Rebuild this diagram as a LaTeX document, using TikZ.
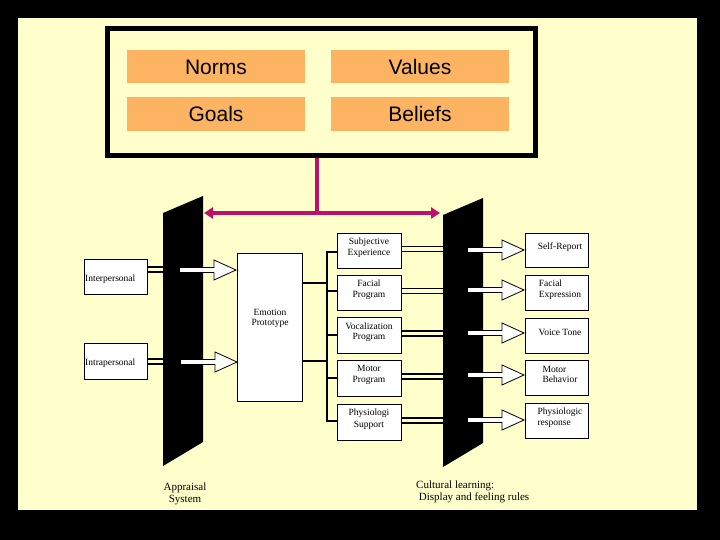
\documentclass[tikz,border=0pt]{standalone}
\usepackage{fontspec}
\setmainfont{Liberation Serif}
\newfontfamily\hsans{Liberation Sans}
\usetikzlibrary{arrows.meta}
\definecolor{bgy}{RGB}{255,255,204}
\definecolor{orng}{RGB}{253,180,98}
\definecolor{mag}{RGB}{190,16,104}
\tikzset{
  cell/.style={fill=orng,draw=none,font=\hsans\fontsize{21}{21}\selectfont,inner sep=0pt},
  wbox/.style={draw=black,fill=white,line width=0.8pt,inner sep=1pt,align=center,font=\fontsize{9.5}{10}\selectfont},
  panel/.style={fill=black},
  dbl/.style={line width=1.4pt},
  bus/.style={line width=1.6pt},
  lbl/.style={align=left,font=\fontsize{11}{12}\selectfont,inner sep=0pt}
}
\newcommand{\harrow}[2]{% x-start, y-center
  \draw[fill=white,line width=0.8pt] (#1,#2-2.5) -- (#1+34,#2-2.5) -- (#1+34,#2-10) -- (#1+56,#2) -- (#1+34,#2+10) -- (#1+34,#2+2.5) -- (#1,#2+2.5);}
\begin{document}
\begin{tikzpicture}[x=1pt,y=-1pt]
\useasboundingbox (0,0) rectangle (720,540);
\fill[black] (0,0) rectangle (720,540);
\fill[bgy] (18,18) rectangle (697,510);
% top box
\draw[line width=5pt] (107,29) rectangle (535,156);
\node[cell,minimum width=178,minimum height=33] (norms) at (216,67) {Norms};
\node[cell,minimum width=178,minimum height=33] (values) at (420,67) {Values};
\node[cell,minimum width=178,minimum height=34] (goals) at (216,114) {Goals};
\node[cell,minimum width=178,minimum height=34] (beliefs) at (420,114) {Beliefs};
\coordinate (tb) at (317,158);
\coordinate (jn) at (317,213);
\coordinate (la) at (204,213);
\coordinate (ra) at (440,213);
\draw[mag,line width=4pt] (tb) -- (jn);
\draw[mag,line width=4pt,-{Triangle[length=9pt,width=11pt]}] (jn) -- (la);
\draw[mag,line width=4pt,-{Triangle[length=9pt,width=11pt]}] (jn) -- (ra);
% panels
\fill[panel] (163,213) -- (203,196) -- (203,442) -- (163,466) -- cycle;
\fill[panel] (443,215) -- (483,198) -- (483,443) -- (443,467) -- cycle;
% left inputs
\node[wbox,minimum width=63,minimum height=35,anchor=north west,inner sep=1pt] (inter) at (84,259) {};
\node[font=\fontsize{9.5}{10}\selectfont,anchor=west,inner sep=0pt] (intertext) at (85,279) {Interpersonal};
\node[wbox,minimum width=63,minimum height=36,anchor=north west] (intra) at (84,343) {};
\node[font=\fontsize{9.5}{10}\selectfont,anchor=west,inner sep=0pt] (intratext) at (85,363) {Intrapersonal};
\draw[dbl] (147,267) -- (165,267) (147,272) -- (165,272);
\draw[dbl] (147,359) -- (165,359) (147,364) -- (165,364);
\harrow{180}{270}
\harrow{181}{362}
% emotion prototype
\node[wbox,minimum width=65,minimum height=148,anchor=north west] (emo) at (237,253) {};
\node[font=\fontsize{9.5}{10}\selectfont,align=center] (emotext) at (270,318) {Emotion\\Prototype};
% bus
\coordinate (bt) at (327,252);
\coordinate (bb) at (327,421);
\draw[bus] (bt) -- (bb);
\draw[bus] (302,283) -- (327,283) (302,361) -- (327,361);
% middle boxes
\foreach \n/\t/\yt/\yb/\by in {sub/{Subjective\\Experience}/233/268/252,
  fac/{Facial\\Program}/275/310/291,
  voc/{Vocalization\\Program}/317/353/335,
  mot/{Motor\\Program}/360/396/378,
  phy/{Physiologi\\[2pt]Support}/404/440/421}{
  \draw[wbox] (337,\yt) rectangle (401,\yb);
  \node[font=\fontsize{9.5}{10.5}\selectfont,align=center] (\n) at (369,{(\yt+\yb)/2-3}) {\t};
  \draw[bus] (326,\by) -- (337,\by);
  \draw[dbl] (401,{(\yt+\yb)/2-4}) -- (445,{(\yt+\yb)/2-4}) (401,{(\yt+\yb)/2+1}) -- (445,{(\yt+\yb)/2+1});
}
% right outputs
\foreach \n/\t/\yt/\yb/\ay in {self/{Self-Report}/233/267/250,
  fexp/{Facial\\Expression}/275/310/290,
  voice/{Voice Tone}/318/353/333,
  mbeh/{Motor\\Behavior}/360/395/375,
  phr/{Physiologic\\response}/403/438/420}{
  \harrow{468}{\ay}
  \draw[wbox] (525,\yt) rectangle (588,\yb);
  \node[font=\fontsize{9.5}{10.5}\selectfont,align=left] (\n) at (560,{(\yt+\yb)/2-3}) {\t};
}
\node[lbl,align=center] (appr) at (185,494) {Appraisal\\System};
\node[lbl,anchor=north west] (cult) at (416,481) {Cultural learning:\\\ Display and feeling rules};
\end{tikzpicture}
\end{document}
